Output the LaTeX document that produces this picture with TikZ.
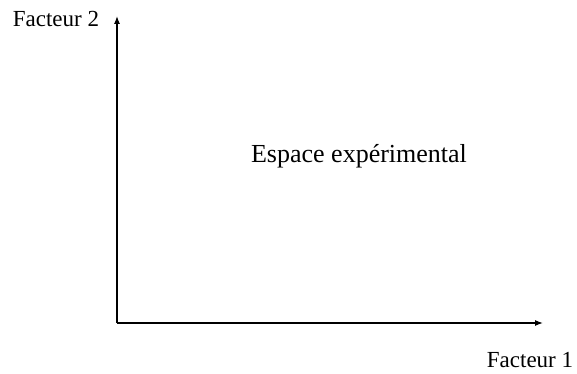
\documentclass[tikz,border=0pt]{standalone}
\usepackage{fontspec}
\setmainfont{Liberation Serif}
\usepackage{tikz}
\usetikzlibrary{arrows.meta,positioning}

\begin{document}
\begin{tikzpicture}[>={Latex[length=8pt,width=6pt]},x=1pt,y=1pt]
\useasboundingbox (0,0) rectangle (577,373);
% ---- assi ----
\coordinate (origine) at (117,50);
\coordinate (asseY) at (117,357);
\coordinate (asseX) at (543,50);
\draw[->,line width=1.2pt] (origine)--(asseY);
\draw[->,line width=1.2pt] (origine)--(asseX);
% ---- etichette ----
\node[font=\fontsize{23}{27}\selectfont] (fattore2) at (56,354) {Facteur 2};
\node[font=\fontsize{23}{27}\selectfont] (fattore1) at (530,13) {Facteur 1};
\node[font=\fontsize{26}{31}\selectfont] (spazio) at (359,217) {Espace expérimental};
\end{tikzpicture}
\end{document}
